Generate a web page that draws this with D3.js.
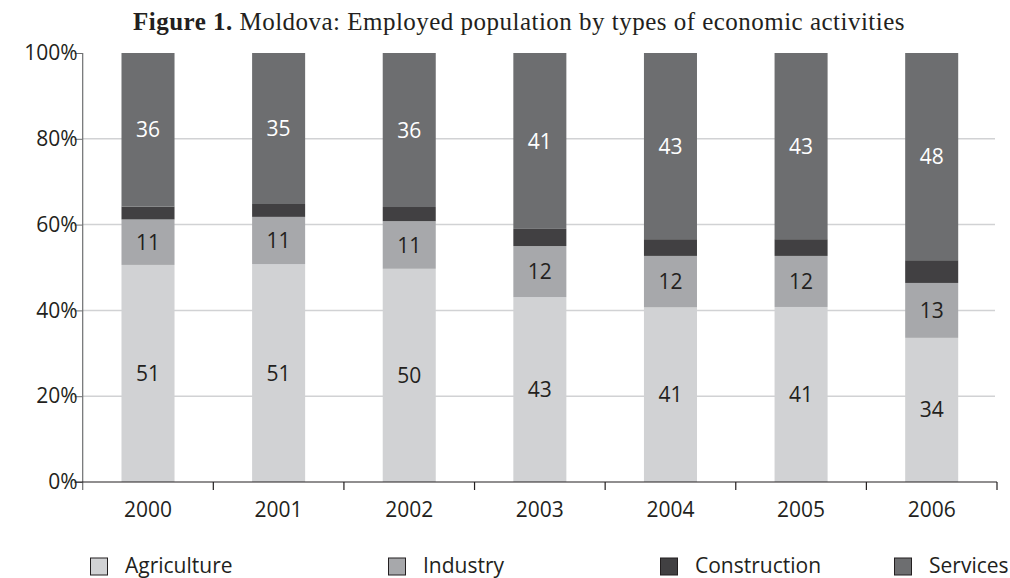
<!DOCTYPE html>
<html>
<head>
<meta charset="utf-8">
<script src="https://cdn.jsdelivr.net/npm/d3@7"></script>
<style>
  html, body { margin: 0; padding: 0; background: #fff; }
  svg { display: block; }
  text { font-family: "Open Sans", "Noto Sans", sans-serif; fill: #231f20; }
  .title { font-family: "Liberation Serif", "DejaVu Serif", serif; }
</style>
</head>
<body>
<svg id="chart" width="1010" height="578"></svg>
<script>
// Employed population shares (%) by activity, Moldova
const years = ["2000", "2001", "2002", "2003", "2004", "2005", "2006"];
const agriculture  = [50.6, 50.8, 49.7, 43.1, 40.7, 40.8, 33.6];
const industry     = [10.6, 11.0, 11.1, 11.9, 12.0, 11.9, 12.8];
const construction = [3.0, 3.0, 3.3, 4.0, 3.9, 3.9, 5.3];
const services     = [35.8, 35.2, 35.9, 41.0, 43.4, 43.4, 48.3];
const seriesNames  = ["Agriculture", "Industry", "Construction", "Services"];
const yTicks       = [0, 20, 40, 60, 80, 100];

const colors = {
  Agriculture: "#d1d2d4",
  Industry: "#a7a8ab",
  Construction: "#414042",
  Services: "#6d6e70"
};
const labelColors = {
  Agriculture: "#231f20",
  Industry: "#231f20",
  Construction: null,
  Services: "#ffffff"
};

const rows = years.map((yr, i) => ({
  year: yr,
  Agriculture: agriculture[i],
  Industry: industry[i],
  Construction: construction[i],
  Services: services[i]
}));

const svg = d3.select("#chart");
const plot = { left: 82.7, right: 997, top: 53, bottom: 482 };
const fontSize = "21px";

const x = d3.scaleBand().domain(years).range([plot.left, plot.right])
  .paddingInner(0.594).paddingOuter(0.297);
const xEdges = d3.scaleBand().domain(years).range([plot.left, plot.right]).padding(0);
const y = d3.scaleLinear().domain([0, 100]).range([plot.bottom, plot.top]);

// Title, spaced out to span the chart heading width
const title = svg.append("text").attr("class", "title")
  .attr("x", 519).attr("y", 30).attr("text-anchor", "middle")
  .style("font-size", "25px");
title.append("tspan").attr("font-weight", "bold").text("Figure 1.");
title.append("tspan").text(" Moldova: Employed population by types of economic activities");
{
  const target = 772;
  const n = title.text().length;
  const w = title.node().getComputedTextLength();
  if (w < target) title.style("letter-spacing", ((target - w) / n) + "px");
}

// Horizontal gridlines
svg.append("g").selectAll("line")
  .data(yTicks.filter(t => t > 0 && t < 100))
  .join("line")
  .attr("x1", plot.left).attr("x2", 995)
  .attr("y1", d => y(d)).attr("y2", d => y(d))
  .attr("stroke", "#d1d2d4").attr("stroke-width", 1.5);

// Stacked bars
const stack = d3.stack().keys(seriesNames);
const layers = stack(rows);

const layerG = svg.append("g").selectAll("g")
  .data(layers).join("g")
  .attr("fill", d => colors[d.key]);

layerG.selectAll("rect")
  .data(d => d.map(v => ({ key: d.key, v })))
  .join("rect")
  .attr("x", d => x(d.v.data.year))
  .attr("width", x.bandwidth())
  .attr("y", d => y(d.v[1]))
  .attr("height", d => y(d.v[0]) - y(d.v[1]));

// Value labels
const fmt = d3.format(".0f");
svg.append("g").selectAll("g")
  .data(layers.filter(l => labelColors[l.key]))
  .join("g")
  .selectAll("text")
  .data(d => d.map(v => ({ key: d.key, v })))
  .join("text")
  .attr("x", d => x(d.v.data.year) + x.bandwidth() / 2)
  .attr("y", d => (y(d.v[0]) + y(d.v[1])) / 2)
  .attr("dy", "0.36em")
  .attr("text-anchor", "middle")
  .style("font-size", fontSize)
  .style("fill", d => labelColors[d.key])
  .text(d => fmt(d.v.data[d.key]));

// Y axis
const yAxis = d3.axisLeft(y).tickValues(yTicks).tickSize(8).tickPadding(0)
  .tickFormat(d => d + "%");
const yG = svg.append("g").attr("transform", `translate(${plot.left},0)`).call(yAxis);
yG.attr("font-family", null).attr("font-size", null);
yG.select(".domain").remove();
yG.selectAll(".tick line").attr("stroke", "#6d6e70");
yG.selectAll(".tick text").attr("x", -5).style("font-size", fontSize)
  .style("fill", "#231f20");
svg.append("line")
  .attr("x1", plot.left).attr("x2", plot.left).attr("y1", plot.top).attr("y2", plot.bottom + 8)
  .attr("stroke", "#6d6e70").attr("stroke-width", 1.2);

// X axis baseline and category boundary ticks
svg.append("line")
  .attr("x1", plot.left - 8).attr("x2", plot.right).attr("y1", plot.bottom).attr("y2", plot.bottom)
  .attr("stroke", "#231f20").attr("stroke-width", 1.2);
svg.append("g").selectAll("line")
  .data(years.slice(1).map(yr => xEdges(yr)).concat([plot.right]))
  .join("line")
  .attr("x1", d => d).attr("x2", d => d)
  .attr("y1", plot.bottom).attr("y2", plot.bottom + 8)
  .attr("stroke", "#231f20").attr("stroke-width", 1.2);

// X category labels
svg.append("g").selectAll("text")
  .data(years).join("text")
  .attr("x", d => x(d) + x.bandwidth() / 2)
  .attr("y", 517)
  .attr("text-anchor", "middle")
  .style("font-size", fontSize)
  .text(d => d);

// Legend
const legendX = [90, 388, 660, 894];
const legend = svg.append("g").selectAll("g")
  .data(seriesNames).join("g")
  .attr("transform", (d, i) => `translate(${legendX[i]},557.5)`);
legend.append("rect")
  .attr("x", 0.5).attr("y", 0.5).attr("width", 17).attr("height", 17)
  .attr("fill", d => colors[d]).attr("stroke", "#231f20").attr("stroke-width", 1);
legend.append("text")
  .attr("x", 35).attr("y", 15.5)
  .style("font-size", fontSize)
  .text(d => d);
</script>
</body>
</html>
